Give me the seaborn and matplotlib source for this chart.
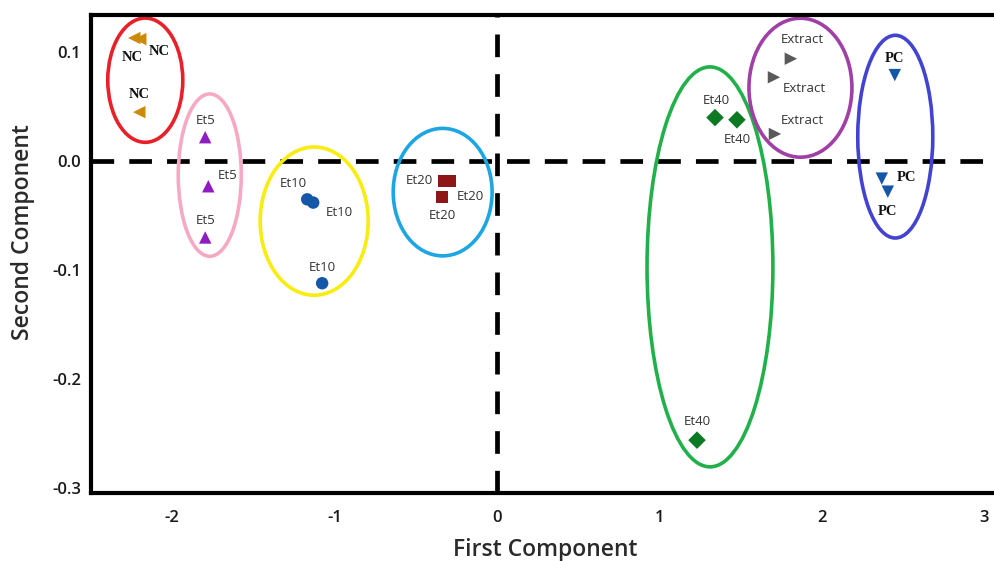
import numpy as np
import pandas as pd
import matplotlib
matplotlib.use("Agg")
import matplotlib.pyplot as plt
from matplotlib.patches import Ellipse
import seaborn as sns

# ---- data ----
groups = ["NC", "NC", "NC",
          "Et5", "Et5", "Et5",
          "Et10", "Et10", "Et10",
          "Et20", "Et20", "Et20",
          "Et40", "Et40", "Et40",
          "Extract", "Extract", "Extract",
          "PC", "PC", "PC"]
pc1 = [-2.234, -2.197, -2.203,
       -1.797, -1.778, -1.797,
       -1.169, -1.132, -1.077,
       -0.325, -0.290, -0.338,
       1.342, 1.477, 1.231,
       1.809, 1.705, 1.711,
       2.449, 2.369, 2.406]
pc2 = [0.113, 0.112, 0.045,
       0.022, -0.023, -0.070,
       -0.035, -0.038, -0.112,
       -0.018, -0.018, -0.033,
       0.040, 0.038, -0.256,
       0.094, 0.077, 0.025,
       0.079, -0.016, -0.028]
label_offsets = [(-1.5, -14), (14, -9), (0, 13),
                 (0, 12), (14, 8), (0, 12),
                 (-10, 11.5), (19, -7), (0, 11.5),
                 (-18, 0), (15, -11), (0, -13),
                 (1, 12), (0, -14), (0, 13.5),
                 (8, 14), (22, -8), (19.5, 10),
                 (0, 12), (18, 1), (0, -14)]

group_order = ["NC", "Et5", "Et10", "Et20", "Et40", "Extract", "PC"]
point_colors = ["#CC8A0A", "#8E1CC0", "#1456A8", "#8E1616", "#0C7A22", "#5A5A5A", "#1456A8"]
point_markers = ["<", "^", "o", "s", "D", ">", "v"]
ring_colors = ["#E8202A", "#F6A9C4", "#F8EC10", "#1EA6E2", "#22B04A", "#A040A6", "#4343D2"]
ring_cx = [-2.166, -1.769, -1.126, -0.335, 1.311, 1.868, 2.452]
ring_cy = [0.0743, -0.0128, -0.055, -0.0284, -0.097, 0.0674, 0.0225]
ring_w = [0.462, 0.388, 0.665, 0.609, 0.775, 0.634, 0.462]
ring_h = [0.114, 0.149, 0.136, 0.117, 0.367, 0.1275, 0.186]

x_ticks = [-2, -1, 0, 1, 2, 3]
y_ticks = [0.1, 0.0, -0.1, -0.2, -0.3]

df = pd.DataFrame({"group": groups, "PC1": pc1, "PC2": pc2})

sns.set_style("white")
plt.rcParams["font.family"] = ["Open Sans", "DejaVu Sans"]

fig = plt.figure(figsize=(9.95, 5.61), dpi=100)
ax = fig.add_axes([0.0915, 0.121, 0.9085, 0.852])

# group ellipses
for cx, cy, w, h, c in zip(ring_cx, ring_cy, ring_w, ring_h, ring_colors):
    ax.add_patch(Ellipse((cx, cy), w, h, fill=False, edgecolor=c, lw=2.6, zorder=2))

# reference lines
ax.axhline(0, color="black", lw=3.4, ls=(0, (4.8, 3.2)), zorder=1)
ax.axvline(0, color="black", lw=3.4, ls=(0, (4.8, 3.6)), zorder=1)

sns.scatterplot(data=df, x="PC1", y="PC2", hue="group", style="group",
                hue_order=group_order, style_order=group_order,
                palette=dict(zip(group_order, point_colors)),
                markers=dict(zip(group_order, point_markers)),
                s=80, edgecolor="none", legend=False, ax=ax, zorder=3)

for g, x, y, (dx, dy) in zip(groups, pc1, pc2, label_offsets):
    if g in ("NC", "PC"):
        kw = dict(family="Liberation Serif", fontweight="bold", fontsize=10.5, color="#111111")
    else:
        kw = dict(family="Open Sans", fontsize=9.5, color="#333333")
    ax.annotate(g, (x, y), xytext=(dx, dy), textcoords="offset points",
                ha="center", va="center", zorder=4, **kw)

ax.set_xlim(-2.5, 3.066)
ax.set_ylim(-0.3046, 0.134)
ax.set_xticks(x_ticks)
ax.set_yticks(y_ticks)
ax.set_xticklabels([f"{t:g}" for t in x_ticks])
ax.set_yticklabels([f"{t:.1f}" for t in y_ticks])

ax.spines["right"].set_visible(False)
for sp in ["left", "top", "bottom"]:
    ax.spines[sp].set_linewidth(3)
    ax.spines[sp].set_color("black")
ax.tick_params(axis="both", direction="out", length=4, width=2.5, color="black",
               labelsize=12, labelcolor="#1a1a1a", pad=3)
ax.tick_params(axis="x", pad=8)
for lab in ax.get_xticklabels() + ax.get_yticklabels():
    lab.set_fontweight("semibold")

ax.set_xlabel("First Component", fontsize=16.5, fontweight="semibold", color="#2a2a2a")
ax.set_ylabel("Second Component", fontsize=16.5, fontweight="semibold", color="#2a2a2a")
ax.xaxis.set_label_coords(0.502, -0.094)
ax.yaxis.set_label_coords(-0.062, 0.546)

fig.savefig("out.png", dpi=100)
